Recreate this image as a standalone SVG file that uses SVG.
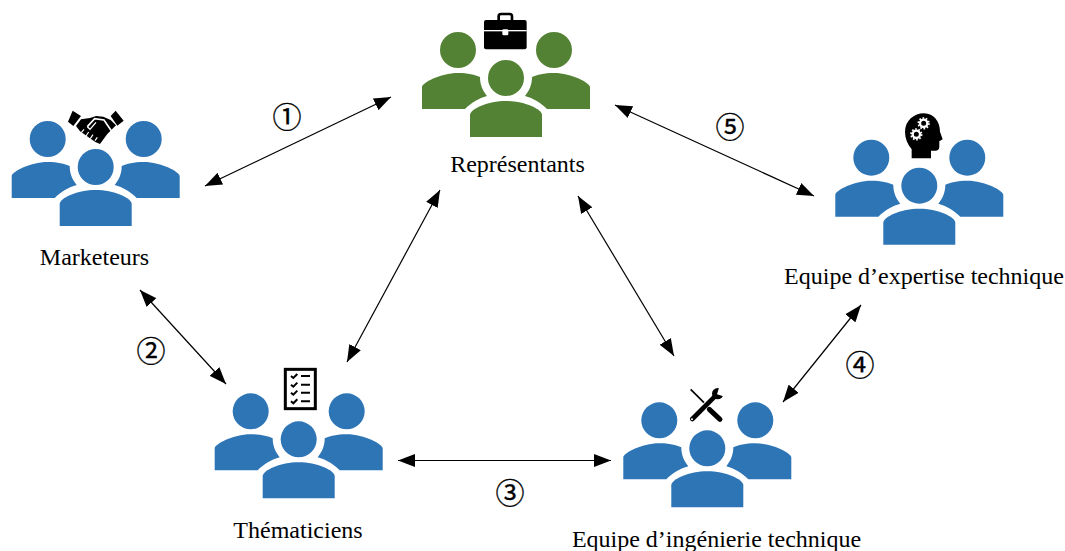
<svg xmlns="http://www.w3.org/2000/svg" width="1065" height="551" viewBox="0 0 1065 551">
<style>
.lbl{font-family:"Liberation Serif","Times New Roman",serif;font-size:24px;fill:#000;text-anchor:middle}
.num{font-family:"Noto Sans CJK JP","DejaVu Sans",sans-serif;font-size:29px;fill:#000;stroke:#000;stroke-width:.35;text-anchor:middle}
.conn{stroke:#000;stroke-width:1.2;fill:none;marker-start:url(#ah);marker-end:url(#ah)}
.blue{fill:#2E75B6}
.green{fill:#548235}
</style>
<defs>
<marker id="ah" markerUnits="userSpaceOnUse" markerWidth="18" markerHeight="14" refX="17" refY="7" orient="auto-start-reverse" viewBox="0 0 18 14"><path d="M0,0.5 L17,7 L0,13.5 Z" fill="#000"/></marker>
<g id="people">
<circle cx="-48" cy="-28" r="18"/><circle cx="48" cy="-28" r="18"/><circle cx="0" cy="0" r="18"/>
<path d="M-84,31 V9 C-84,5 -66,-5 -48,-5 C-38,-5 -31,-3 -26,-1 C-26,7 -23,13 -19,18 C-27,20 -35,25 -41,31 Z"/>
<path d="M84,31 V9 C84,5 66,-5 48,-5 C38,-5 31,-3 26,-1 C26,7 23,13 19,18 C27,20 35,25 41,31 Z"/>
<path d="M-36,59 V37 C-36,31 -18,23 0,23 C18,23 36,31 36,37 V59 Z"/>
</g>
</defs>
<rect width="1065" height="551" fill="#fff"/>
<g id="connectors">
<line class="conn" x1="205" y1="186" x2="391" y2="97"/>
<line class="conn" x1="615" y1="105" x2="814" y2="196"/>
<line class="conn" x1="440" y1="190" x2="347" y2="362"/>
<line class="conn" x1="578" y1="196" x2="674" y2="356"/>
<line class="conn" x1="140" y1="290" x2="226" y2="384"/>
<line class="conn" x1="398" y1="460.5" x2="611" y2="460.5"/>
<line class="conn" x1="783" y1="402" x2="861" y2="305"/>
</g>
<g id="marketeurs">
<use href="#people" class="blue" x="95.7" y="167"/>
<g transform="translate(0,90) scale(.3333)">
<path d="M218,62 L243,78 L220,108 L204,95 Z M347,62 L371,92 L352,107 L332,78 Z"/>
<path d="M243,88 L270,84 L288,78 L310,80 L332,90 L348,106 L322,132 L300,162 L286,156 L240,124 L228,108 Z"/>
<path d="M262,110 L284,86 L312,90 L334,122" fill="none" stroke="#fff" stroke-width="5"/>
<path d="M262,110 L270,118 L288,97" fill="none" stroke="#fff" stroke-width="4"/>
<path d="M252,118 L244,128 M266,126 L258,138 M279,134 L271,146 M292,142 L285,152" fill="none" stroke="#fff" stroke-width="3.5"/>
</g>
<text class="lbl" x="94.5" y="265">Marketeurs</text>
</g>
<g id="representants">
<use href="#people" class="green" x="506" y="78"/>
<g transform="translate(410,0) scale(.3333)">
<rect x="266" y="42" width="40" height="24" rx="7" fill="none" stroke="#000" stroke-width="8"/>
<rect x="222" y="60" width="128" height="88" rx="6"/>
<rect x="222" y="90" width="128" height="4" fill="#fff"/>
<rect x="277" y="88" width="18" height="18" rx="4" fill="#fff"/>
</g>
<text class="lbl" x="517.5" y="172">Représentants</text>
</g>
<g id="expertise">
<use href="#people" class="blue" x="919.3" y="185.7"/>
<g transform="translate(830,100) scale(.3333)">
<path d="M245,175 V148 C232,132 225,115 225,95 C225,62 252,40 282,40 C312,40 330,65 330,95 L338,118 L328,124 V140 Q328,152 315,152 H303 V175 Z"/>
<g fill="none" stroke="#fff">
<circle cx="281" cy="70" r="11" stroke-width="7"/><circle cx="281" cy="70" r="16" stroke-width="5" stroke-dasharray="5 5"/>
<circle cx="259" cy="103" r="11" stroke-width="7"/><circle cx="259" cy="103" r="16" stroke-width="5" stroke-dasharray="5 5"/>
</g>
</g>
<text class="lbl" x="924" y="284">Equipe d’expertise technique</text>
</g>
<g id="thematiciens">
<use href="#people" class="blue" x="298.7" y="439.3"/>
<g transform="translate(210,360) scale(.3333)">
<rect x="226" y="28" width="90" height="118" fill="#fff" stroke="#000" stroke-width="9"/>
<g fill="none" stroke="#000" stroke-width="6">
<path d="M243,48 L250,54 L262,42 M243,74 L250,80 L262,68 M243,98 L250,104 L262,92 M243,124 L250,130 L262,118"/>
<path d="M273,48 H300 M273,74 H300 M273,98 H300 M273,124 H300"/>
</g>
</g>
<text class="lbl" x="298" y="538">Thématiciens</text>
</g>
<g id="ingenierie">
<use href="#people" class="blue" x="707.3" y="448.3"/>
<g transform="translate(620,380) scale(.3333)">
<path d="M212,28 L252,68" stroke="#000" stroke-width="5" fill="none"/>
<path d="M268,88 L300,118" stroke="#000" stroke-width="15" stroke-linecap="round" fill="none"/>
<path d="M217,117 L284,50" stroke="#000" stroke-width="14" stroke-linecap="round" fill="none"/>
<circle cx="293" cy="41" r="17"/>
<path d="M291,43 L298,20 L320,20 L314,50 Z" fill="#fff"/>
<circle cx="216" cy="118" r="3" fill="#fff"/>
</g>
<text class="lbl" x="716.5" y="547">Equipe d’ingénierie technique</text>
</g>
<g id="numbers">
<text class="num" x="287" y="128">①</text>
<text class="num" x="151" y="361.5">②</text>
<text class="num" x="510" y="504">③</text>
<text class="num" x="860" y="375.5">④</text>
<text class="num" x="730" y="137.5">⑤</text>
</g>
</svg>
